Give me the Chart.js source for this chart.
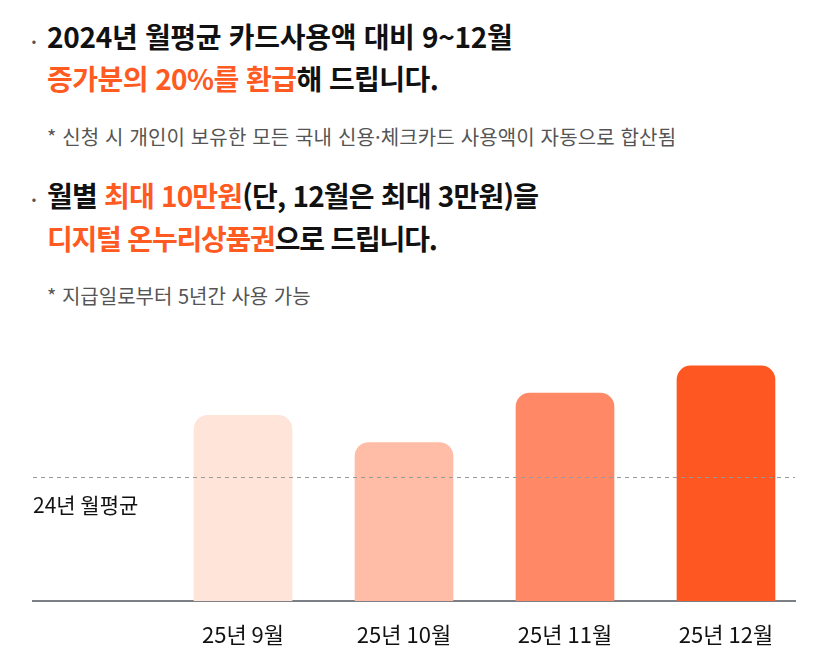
<!DOCTYPE html>
<html lang="ko">
<head>
<meta charset="utf-8">
<script src="https://cdn.jsdelivr.net/npm/chart.js@4.4.1/dist/chart.umd.min.js"></script>
<style>
  html, body { margin: 0; padding: 0; background: #fff; }
  body { width: 824px; height: 667px; position: relative; overflow: hidden;
         font-family: "Noto Sans CJK KR", "Noto Sans", sans-serif; color: #111; }
  .line { position: absolute; left: 47px; white-space: nowrap; }
  .head { font-size: 28px; font-weight: 700; letter-spacing: -0.3px; line-height: 34px; }
  .note { font-size: 20px; color: #555; line-height: 24px; }
  .dot { position: absolute; left: 31px; font-size: 18px; line-height: 20px; color: #555; font-weight: 700; }
  .hl { color: #ff5a1f; }
  #wrap { position: absolute; left: 0; top: 300px; width: 824px; height: 367px; }
</style>
</head>
<body>
  <span class="dot" style="top:31px">·</span>
  <div class="line head" style="top:19px">2024년 월평균 카드사용액 대비 9~12월</div>
  <div class="line head" style="top:61px; letter-spacing:-0.55px"><span class="hl">증가분의 20%를 환급</span>해 드립니다.</div>
  <div class="line note" style="top:125px; letter-spacing:0.15px">* 신청 시 개인이 보유한 모든 국내 신용·체크카드 사용액이 자동으로 합산됨</div>

  <span class="dot" style="top:189px">·</span>
  <div class="line head" style="top:178px; letter-spacing:-0.8px">월별 <span class="hl">최대 10만원</span>(단, 12월은 최대 3만원)을</div>
  <div class="line head" style="top:221px; letter-spacing:-1.2px"><span class="hl">디지털 온누리상품권</span>으로 드립니다.</div>
  <div class="line note" style="top:284px">* 지급일로부터 5년간 사용 가능</div>

  <div id="wrap"><canvas id="chart"></canvas></div>

<script>
  // months shown under the bars
  const months = ['25년 9월', '25년 10월', '25년 11월', '25년 12월'];
  // card spending per month, 24년 average = 100
  const spending = [150, 128, 168, 190];
  const average = 100;
  const averageLabel = '24년 월평균';
  const barColors = ['#ffe4da', '#ffbca7', '#ff8866', '#ff5722'];

  const avgLine = {
    id: 'avgLine',
    afterDatasetsDraw(chart) {
      const { ctx, chartArea, scales } = chart;
      const y = Math.round(scales.y.getPixelForValue(average)) + 0.5;
      ctx.save();
      ctx.strokeStyle = '#9a9a9a';
      ctx.lineWidth = 1;
      ctx.setLineDash([4, 4]);
      ctx.beginPath();
      ctx.moveTo(chartArea.left, y);
      ctx.lineTo(chartArea.right, y);
      ctx.stroke();
      ctx.setLineDash([]);
      ctx.fillStyle = '#111';
      ctx.font = '21px "Noto Sans CJK KR", sans-serif';
      ctx.textBaseline = 'middle';
      ctx.fillText(averageLabel, chartArea.left, y + 28);
      ctx.restore();
    }
  };

  new Chart(document.getElementById('chart'), {
    type: 'bar',
    data: {
      datasets: [{
        data: spending.map((v, i) => ({ x: i + 1, y: v })),
        backgroundColor: barColors,
        borderRadius: 14,
        borderSkipped: 'start',
        barThickness: 98
      }]
    },
    options: {
      responsive: true,
      maintainAspectRatio: false,
      animation: false,
      layout: { padding: { left: 33, right: 29, top: 4, bottom: 0 } },
      plugins: { legend: { display: false }, tooltip: { enabled: false } },
      scales: {
        x: {
          type: 'linear',
          offset: false,
          min: -0.3043,
          max: 4.4286,
          grid: { display: false, drawTicks: false, offset: false },
          border: { display: true, color: '#7c7f86', width: 2 },
          afterBuildTicks: (s) => { s.ticks = months.map((m, i) => ({ value: i + 1 })); },
          afterFit: (s) => { s.height = 66; },
          ticks: {
            autoSkip: false,
            maxRotation: 0,
            padding: 20,
            color: '#111',
            font: { size: 22, family: '"Noto Sans CJK KR", sans-serif' },
            callback: (v) => months[v - 1]
          }
        },
        y: {
          display: false,
          min: 0,
          max: 240
        }
      }
    },
    plugins: [avgLine]
  });
</script>
</body>
</html>
